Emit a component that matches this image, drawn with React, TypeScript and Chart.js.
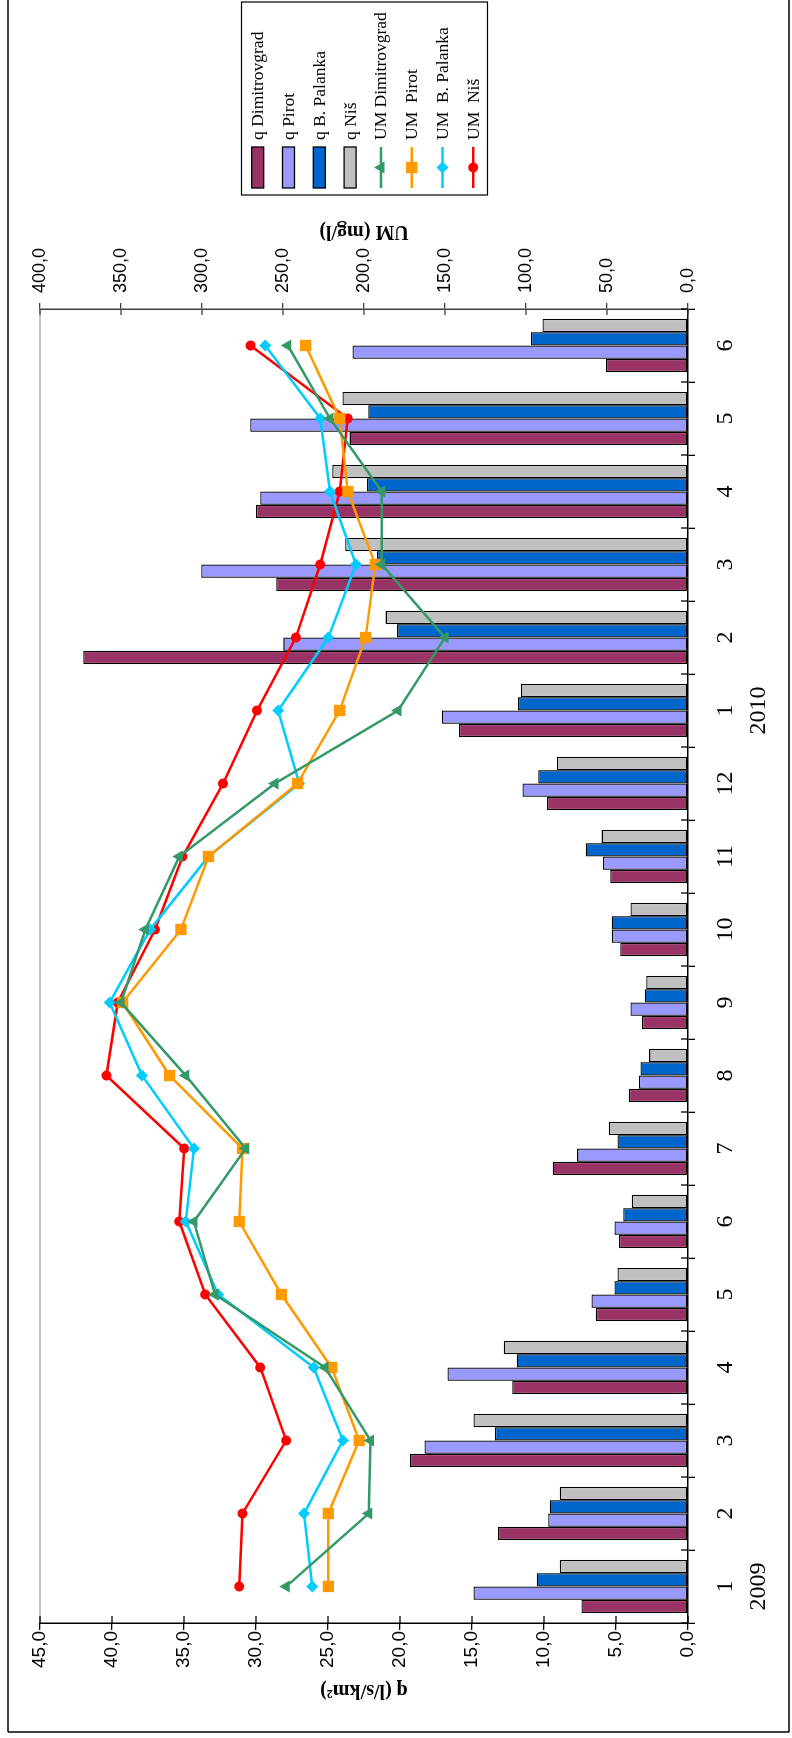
import React, { useEffect, useRef } from 'react';
import { Chart, registerables } from 'chart.js';

Chart.register(...registerables);

// ---------- data ----------
const MONTHS = ['1', '2', '3', '4', '5', '6', '7', '8', '9', '10', '11', '12', '1', '2', '3', '4', '5', '6'];
const YEARS = ['2009', '2010'];
const YEAR_START_INDEX = [0, 12];

const Q_DIMITROVGRAD = [7.4, 13.2, 19.3, 12.2, 6.4, 4.8, 9.4, 4.1, 3.2, 4.7, 5.4, 9.8, 15.9, 42.0, 28.6, 30.0, 23.5, 5.7];
const Q_PIROT = [14.9, 9.7, 18.3, 16.7, 6.7, 5.1, 7.7, 3.4, 4.0, 5.3, 5.9, 11.5, 17.1, 28.1, 33.8, 29.7, 30.4, 23.3];
const Q_PALANKA = [10.5, 9.6, 13.4, 11.9, 5.1, 4.5, 4.9, 3.3, 3.0, 5.3, 7.1, 10.4, 11.8, 20.2, 21.6, 22.3, 22.2, 10.9];
const Q_NIS = [8.9, 8.9, 14.9, 12.8, 4.9, 3.9, 5.5, 2.7, 2.9, 4.0, 6.0, 9.1, 11.6, 21.0, 23.8, 24.7, 24.0, 10.1];

const UM_DIMITROVGRAD = [248, 197, 196, 224, 292, 305, 273, 310, 350, 335, 314, 255, 179, 150, 189, 189, 221, 247];
const UM_PIROT = [222, 222, 203, 220, 251, 277, 275, 320, 349, 313, 296, 241, 215, 199, 193, 210, 215, 236];
const UM_PALANKA = [232, 237, 213, 231, 290, 310, 305, 337, 357, 332, 296, 240, 253, 222, 205, 221, 227, 261];
const UM_NIS = [277, 275, 248, 264, 298, 314, 311, 359, 352, 329, 312, 287, 266, 242, 227, 215, 210, 270];

const SERIES_NAMES = ['q Dimitrovgrad', 'q Pirot', 'q B. Palanka', 'q Niš', 'UM Dimitrovgrad', 'UM  Pirot', 'UM  B. Palanka', 'UM  Niš'];
const Q_TITLE = 'q (l/s/km²)';
const UM_TITLE = 'UM (mg/l)';
const Q_MIN = 0, Q_MAX = 45, Q_STEP = 5;
const UM_MIN = 0, UM_MAX = 400, UM_STEP = 50;

// ---------- styles ----------
const BAR_COLORS = ['#993366', '#9999FF', '#0066CC', '#C0C0C0'];
const LINE_COLORS = ['#339966', '#FF9900', '#00CCFF', '#FF0000'];
const POINT_STYLES = ['triangle', 'rect', 'rectRot', 'circle'];
const POINT_RADII = [7, 8, 6, 5];

const W = 1738;
const H = 792;

const fmt = (v: number) => v.toFixed(1).replace('.', ',');

function drawMarker(ctx: CanvasRenderingContext2D, style: string, x: number, y: number, r: number) {
  ctx.beginPath();
  if (style === 'triangle') {
    ctx.moveTo(x, y - r);
    ctx.lineTo(x + r * 0.866, y + r * 0.5);
    ctx.lineTo(x - r * 0.866, y + r * 0.5);
    ctx.closePath();
  } else if (style === 'rect') {
    const s = r * Math.SQRT1_2;
    ctx.rect(x - s, y - s, 2 * s, 2 * s);
  } else if (style === 'rectRot') {
    ctx.moveTo(x - r, y);
    ctx.lineTo(x, y - r);
    ctx.lineTo(x + r, y);
    ctx.lineTo(x, y + r);
    ctx.closePath();
  } else {
    ctx.arc(x, y, r, 0, Math.PI * 2);
  }
  ctx.fill();
}

const decorPlugin = {
  id: 'decor',
  afterDraw(chart: any) {
    const ctx: CanvasRenderingContext2D = chart.ctx;
    const ca = chart.chartArea;
    const xs = chart.scales.x;
    const ys = chart.scales.y;
    const y1s = chart.scales.y1;
    const seg = (a: number, b: number, c: number, d: number) => {
      ctx.beginPath();
      ctx.moveTo(a, b);
      ctx.lineTo(c, d);
      ctx.stroke();
    };
    ctx.save();
    // plot area top border
    ctx.strokeStyle = '#8c8c8c';
    ctx.lineWidth = 1.2;
    seg(ca.left, ca.top, ca.right, ca.top);

    // inner halves of cross tick marks
    ctx.strokeStyle = '#000';
    ctx.lineWidth = 1.3;
    const n = xs.ticks.length;
    for (let i = 0; i <= n; i++) {
      const px = ca.left + ((ca.right - ca.left) * i) / n;
      seg(px, ca.bottom, px, ca.bottom - 7);
    }
    ys.ticks.forEach((t: any) => {
      const py = ys.getPixelForValue(t.value);
      seg(ca.left, py, ca.left + 7, py);
    });
    ctx.strokeStyle = '#404040';
    y1s.ticks.forEach((t: any) => {
      const py = y1s.getPixelForValue(t.value);
      seg(ca.right, py, ca.right - 6, py);
    });

    // outer frame
    ctx.strokeStyle = '#000';
    ctx.lineWidth = 1.5;
    seg(6, 8, 6, 789);
    seg(6, 8, W, 8);
    seg(6, 789, W, 789);

    // axis titles (rotated)
    ctx.fillStyle = '#000';
    ctx.font = 'bold 20px "Liberation Serif"';
    ctx.textAlign = 'center';
    ctx.textBaseline = 'middle';
    const midY = (ca.top + ca.bottom) / 2;
    ctx.save();
    ctx.translate(48, midY);
    ctx.rotate(-Math.PI / 2);
    ctx.fillText(Q_TITLE, 0, 0);
    ctx.restore();
    ctx.save();
    ctx.translate(1507, midY);
    ctx.rotate(-Math.PI / 2);
    ctx.fillText(UM_TITLE, 0, 0);
    ctx.restore();

    // legend
    const lx = 1543, ly = 241.5, lw = 193, lh = 246;
    ctx.fillStyle = '#fff';
    ctx.fillRect(lx, ly, lw, lh);
    ctx.strokeStyle = '#000';
    ctx.lineWidth = 1.2;
    ctx.strokeRect(lx, ly, lw, lh);
    const step = 30.8;
    chart.data.datasets.forEach((ds: any, i: number) => {
      const cy = 257.7 + i * step;
      const sx0 = 1550, sx1 = 1591;
      if (ds.type === 'bar') {
        ctx.fillStyle = ds.backgroundColor;
        ctx.fillRect(sx0, cy - 6, sx1 - sx0, 12);
        ctx.strokeStyle = '#000';
        ctx.lineWidth = 1.3;
        ctx.strokeRect(sx0, cy - 6, sx1 - sx0, 12);
      } else {
        ctx.strokeStyle = ds.borderColor;
        ctx.lineWidth = 2.5;
        seg(sx0, cy, sx1, cy);
        ctx.fillStyle = ds.borderColor;
        drawMarker(ctx, ds.pointStyle, (sx0 + sx1) / 2, cy, ds.pointRadius);
      }
      ctx.fillStyle = '#000';
      ctx.font = '17.5px "Liberation Serif"';
      ctx.textAlign = 'left';
      ctx.textBaseline = 'middle';
      ctx.fillText(ds.label, 1598, cy + 1);
    });
    ctx.restore();
  },
};

export default function App() {
  const ref = useRef<HTMLCanvasElement>(null);

  useEffect(() => {
    const labels = MONTHS.map((m, i) => {
      const k = YEAR_START_INDEX.indexOf(i);
      return k >= 0 ? [m, YEARS[k]] : m;
    });
    const qSeries = [Q_DIMITROVGRAD, Q_PIROT, Q_PALANKA, Q_NIS];
    const umSeries = [UM_DIMITROVGRAD, UM_PIROT, UM_PALANKA, UM_NIS];

    const barSets = qSeries.map((data, i) => ({
      type: 'bar' as const,
      label: SERIES_NAMES[i],
      data,
      yAxisID: 'y',
      backgroundColor: BAR_COLORS[i],
      borderColor: '#000',
      borderWidth: 1.3,
      borderSkipped: false,
      barPercentage: 1,
      categoryPercentage: 0.73,
      order: 1,
    }));
    const lineSets = umSeries.map((data, i) => ({
      type: 'line' as const,
      label: SERIES_NAMES[i + 4],
      data,
      yAxisID: 'y1',
      borderColor: LINE_COLORS[i],
      backgroundColor: LINE_COLORS[i],
      borderWidth: 2.5,
      pointStyle: POINT_STYLES[i],
      pointRadius: POINT_RADII[i],
      pointBackgroundColor: LINE_COLORS[i],
      pointBorderColor: LINE_COLORS[i],
      pointBorderWidth: 0,
      tension: 0,
      fill: false,
      order: 0,
    }));

    const chart = new Chart(ref.current as HTMLCanvasElement, {
      data: { labels, datasets: [...barSets, ...lineSets] as any },
      options: {
        responsive: false,
        animation: false,
        devicePixelRatio: 1,
        layout: { padding: { top: 40, left: 0, right: 0, bottom: 0 } },
        plugins: {
          legend: { display: false },
          tooltip: { enabled: false },
        },
        scales: {
          x: {
            type: 'category',
            position: 'bottom',
            offset: true,
            grid: { display: true, drawOnChartArea: false, offset: true, tickLength: 7, color: '#000', lineWidth: 1.3 },
            border: { display: true, color: '#000', width: 1.5 },
            ticks: {
              color: '#000',
              font: { family: 'Liberation Serif', size: 24, lineHeight: 1.35 },
              padding: 15,
              maxRotation: 0,
              minRotation: 0,
              autoSkip: false,
            },
            afterFit: (s: any) => { s.height = 104; },
          },
          y: {
            type: 'linear',
            position: 'left',
            min: Q_MIN,
            max: Q_MAX,
            grid: { display: true, drawOnChartArea: false, tickLength: 7, color: '#000', lineWidth: 1.3 },
            border: { display: true, color: '#000', width: 1.5 },
            ticks: {
              stepSize: Q_STEP,
              color: '#000',
              font: { family: 'Liberation Sans', size: 19 },
              padding: 1,
              callback: (v: any) => fmt(Number(v)),
            },
            afterFit: (s: any) => { s.width = 115; },
          },
          y1: {
            type: 'linear',
            position: 'right',
            min: UM_MIN,
            max: UM_MAX,
            grid: { display: true, drawOnChartArea: false, tickLength: 6, color: '#404040', lineWidth: 1.3 },
            border: { display: true, color: '#404040', width: 1.5 },
            ticks: {
              stepSize: UM_STEP,
              color: '#000',
              font: { family: 'Liberation Sans', size: 18 },
              padding: 10,
              callback: (v: any) => fmt(Number(v)),
            },
            afterFit: (s: any) => { s.width = 309; },
          },
        },
      } as any,
      plugins: [decorPlugin],
    });
    return () => chart.destroy();
  }, []);

  return (
    <div style={{ position: 'absolute', left: 0, top: 0, width: 792, height: 1738, overflow: 'hidden', background: '#fff' }}>
      <div
        style={{
          position: 'absolute',
          left: 0,
          top: 0,
          width: W,
          height: H,
          transformOrigin: '0 0',
          transform: `translateY(${W}px) rotate(-90deg)`,
        }}
      >
        <canvas ref={ref} width={W} height={H} style={{ display: 'block', width: W, height: H }} />
      </div>
    </div>
  );
}
